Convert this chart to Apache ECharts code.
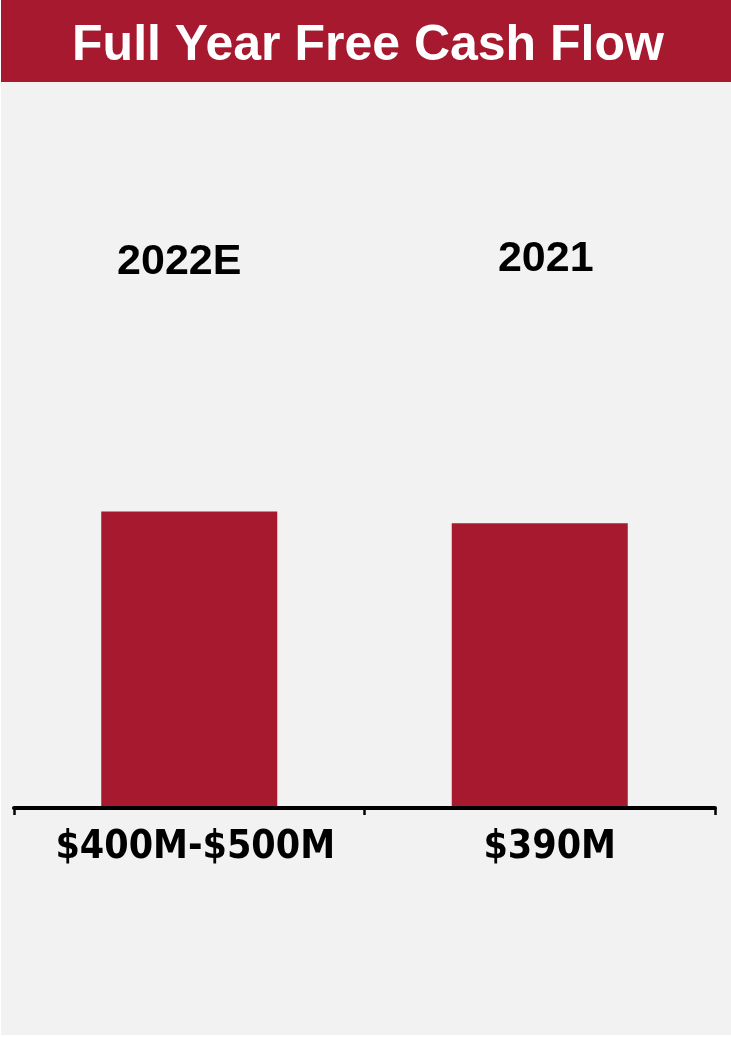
<!DOCTYPE html>
<html>
<head>
<meta charset="utf-8">
<title>Full Year Free Cash Flow</title>
<script src="https://cdn.jsdelivr.net/npm/echarts@6/dist/echarts.min.js"></script>
<style>
  html, body { margin: 0; padding: 0; background: #ffffff; }
  #chart { position: absolute; left: 1px; top: 0; width: 730px; height: 1035px; background: #F2F2F2; }
</style>
</head>
<body>
<div id="chart"></div>
<script>
// Free cash flow, in millions of dollars
const categories = ['2022E', '2021'];
const valueLabels = ['$400M-$500M', '$390M'];
const cashFlow = [406, 390];

const RED = '#A6192E';
const chart = echarts.init(document.getElementById('chart'), null, { renderer: 'canvas' });

chart.setOption({
  backgroundColor: '#F2F2F2',
  animation: false,
  graphic: [
    {
      type: 'rect',
      shape: { x: 0, y: 0, width: 730, height: 82 },
      style: { fill: RED },
      z: 1
    },
    {
      type: 'text',
      x: 367,
      y: 46,
      style: {
        text: 'Full Year Free Cash Flow',
        fill: '#ffffff',
        font: 'bold 50px "Liberation Sans", Arial, sans-serif',
        align: 'center',
        verticalAlign: 'middle'
      },
      z: 2
    }
  ],
  grid: { left: 13, right: 16, top: 443, bottom: 227 },
  xAxis: [
    {
      type: 'category',
      position: 'bottom',
      data: [
        { value: valueLabels[0], textStyle: { padding: [0, 0, 0, 12] } },
        { value: valueLabels[1], textStyle: { padding: [0, 0, 0, 20] } }
      ],
      boundaryGap: true,
      axisLine: { show: true, lineStyle: { color: '#000000', width: 4 } },
      axisTick: { show: true, length: 7, lineStyle: { color: '#000000', width: 2.5 } },
      axisLabel: {
        interval: 0,
        margin: 20,
        color: '#000000',
        fontFamily: '"DejaVu Sans Condensed", "DejaVu Sans", Verdana, sans-serif',
        fontWeight: 'bold',
        fontSize: 39
      },
      z: 5
    },
    {
      type: 'category',
      position: 'top',
      offset: 159,
      data: [
        { value: categories[0], textStyle: { padding: [0, 20, 0, 0] } },
        { value: categories[1], textStyle: { padding: [0, 0, 3, 12] } }
      ],
      axisLine: { show: false },
      axisTick: { show: false },
      axisLabel: {
        interval: 0,
        margin: 0,
        color: '#000000',
        fontFamily: '"Liberation Sans", Arial, sans-serif',
        fontWeight: 'bold',
        fontSize: 43
      }
    }
  ],
  yAxis: {
    type: 'value',
    min: 0,
    max: 500,
    show: false,
    splitLine: { show: false }
  },
  series: [
    {
      type: 'bar',
      xAxisIndex: 0,
      data: cashFlow,
      barWidth: 176,
      itemStyle: { color: RED },
      z: 2
    }
  ]
});
</script>
</body>
</html>
